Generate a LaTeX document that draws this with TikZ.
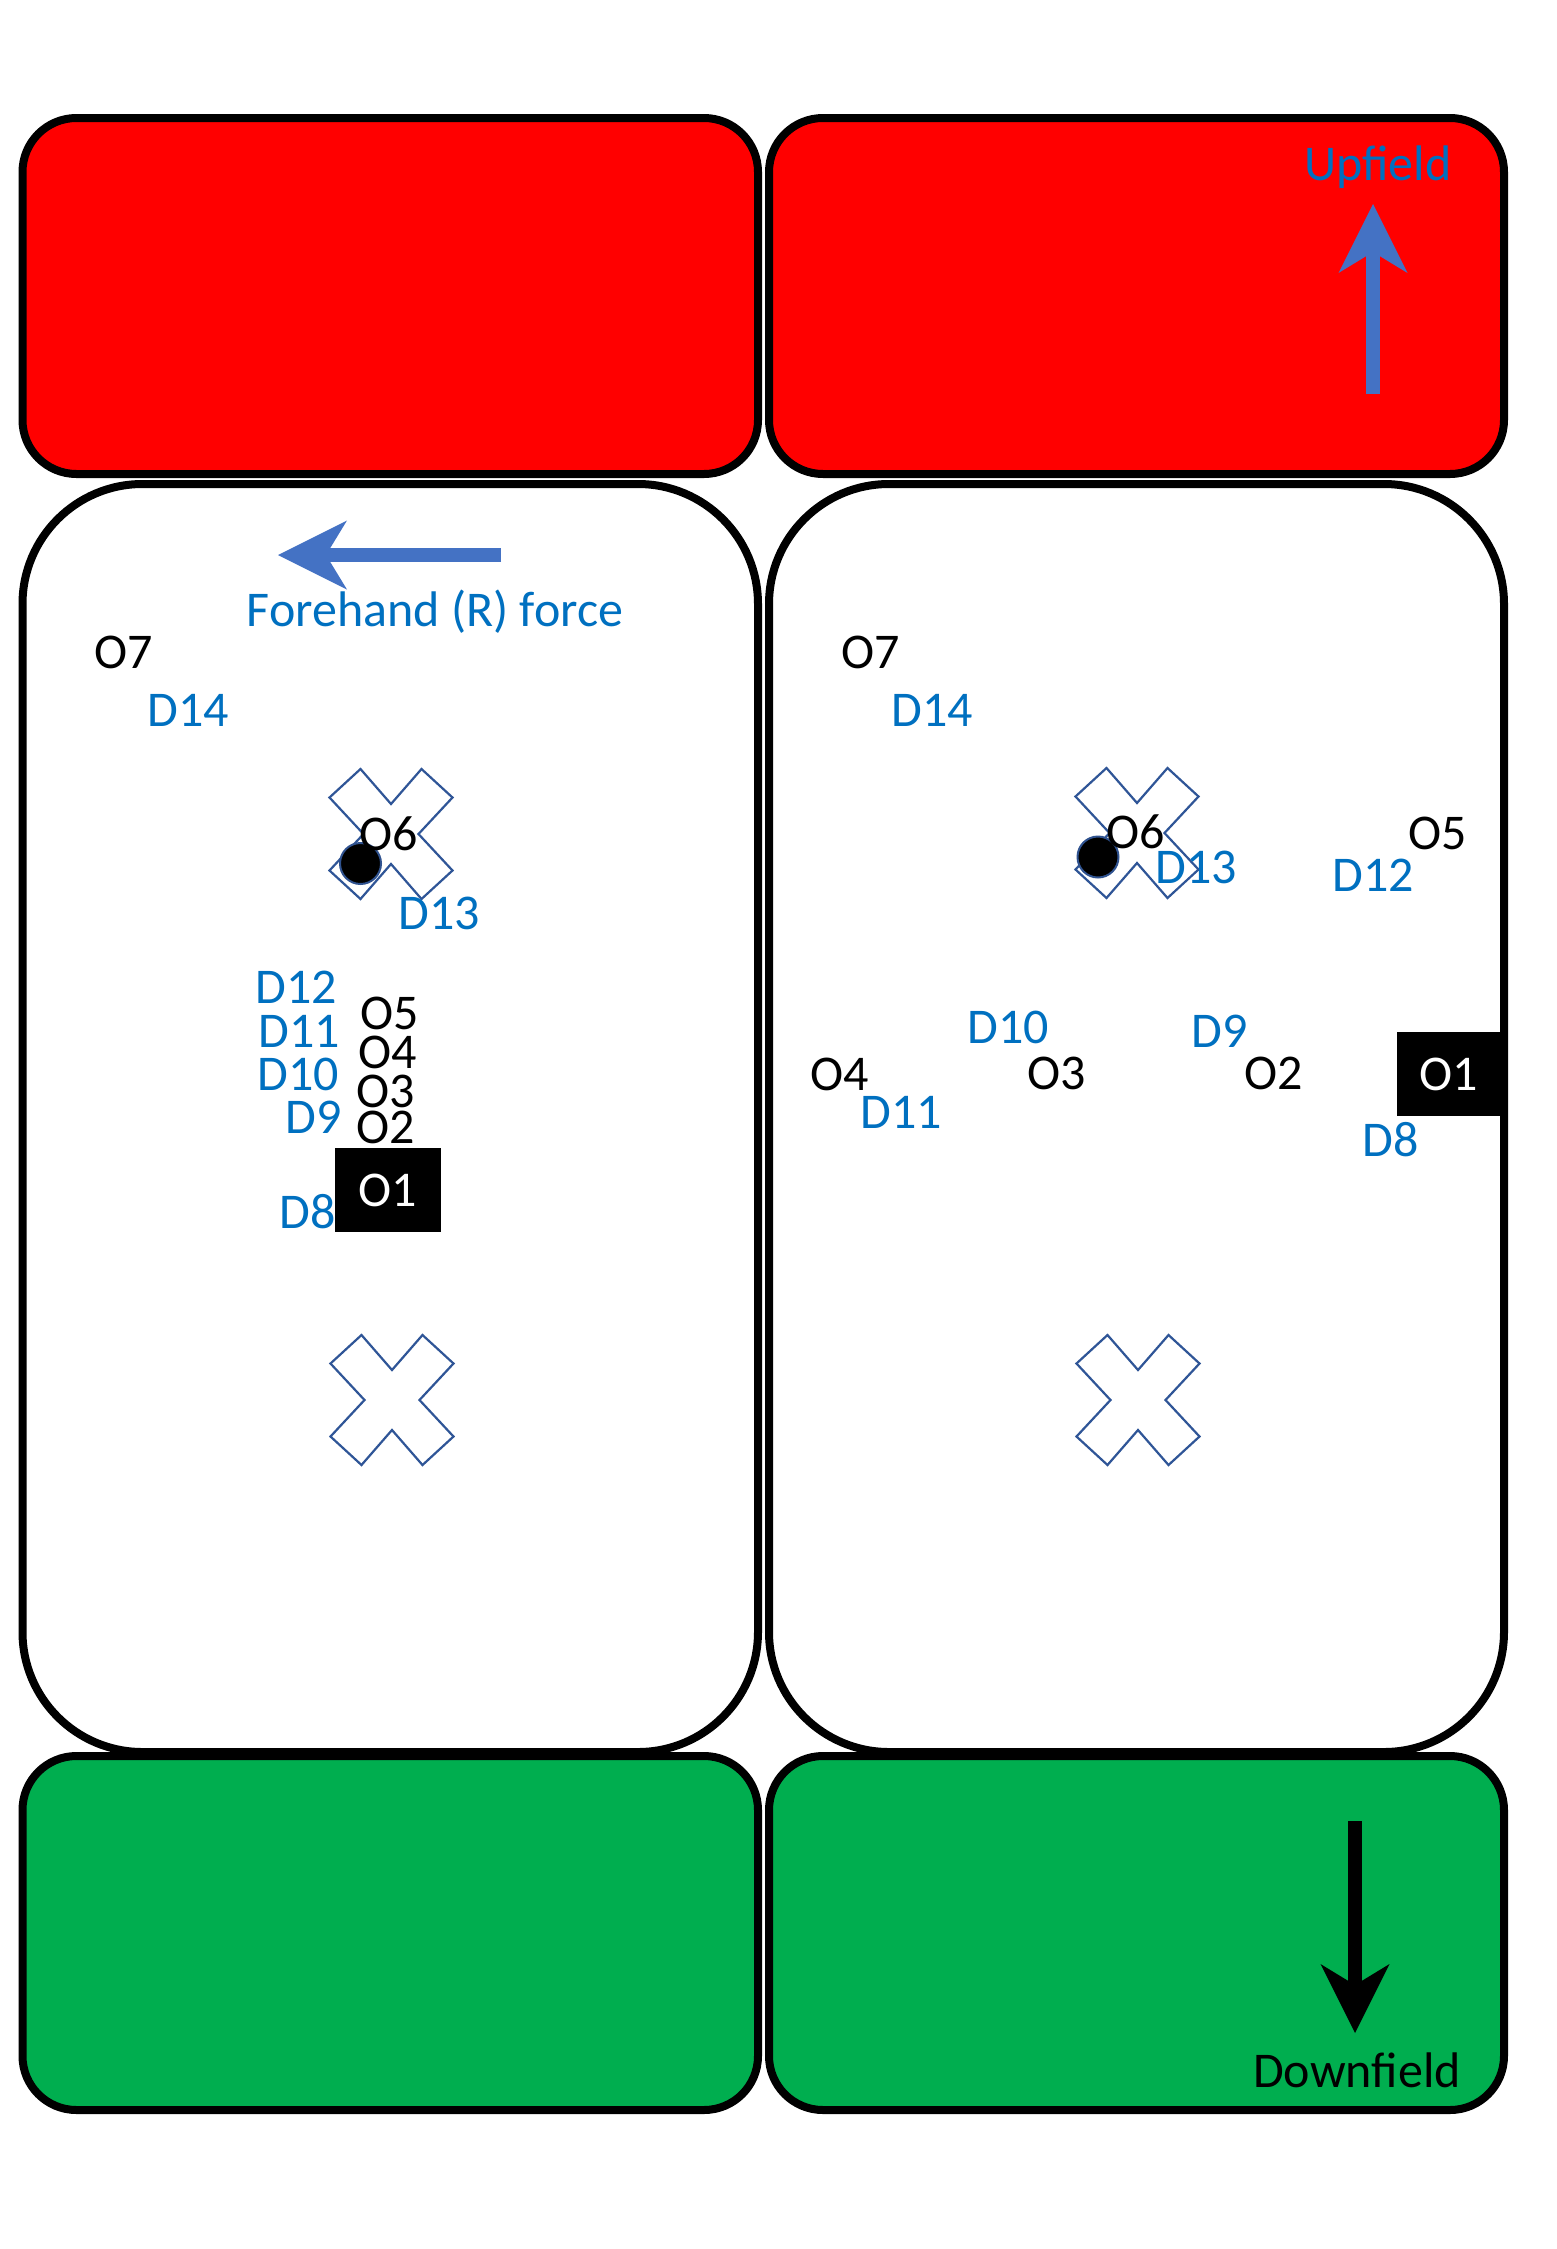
\documentclass[tikz,border=0pt]{standalone}
\usepackage{fontspec}
\setmainfont{Carlito}
\usetikzlibrary{arrows.meta}
\definecolor{fieldred}{HTML}{FF0000}
\definecolor{fieldgreen}{HTML}{00AE4F}
\definecolor{txtblue}{HTML}{0070C0}
\definecolor{arrblue}{HTML}{4472C4}
\definecolor{xblue}{HTML}{2F5597}
\definecolor{dotring}{HTML}{2F528F}
\begin{document}
\begin{tikzpicture}[x=1pt,y=-1pt,
  endzone/.style={draw=black,line width=8pt,rounded corners=54pt},
  midfield/.style={draw=black,fill=white,line width=8pt,rounded corners=120pt},
  olab/.style={anchor=base,inner sep=0pt,font=\fontsize{50}{60}\selectfont,text=black},
  dlab/.style={olab,text=txtblue},
  obox/.style={fill=black,text=white,inner sep=0pt,font=\fontsize{50}{60}\selectfont},
  disc/.style={circle,fill=black,draw=dotring,line width=2pt,inner sep=0pt,minimum size=41pt},
  bigarrow/.style={line width=14pt,-{Stealth[length=69pt,width=69pt,inset=21pt,line width=0pt]}},
  xmark/.pic={\draw[xblue,line width=2.2pt,line join=miter]
    (-30.5,-65) -- (0,-30) -- (30.5,-65) -- (61.5,-36.5) -- (27.5,0) -- (61.5,36.5)
    -- (30.5,65) -- (0,30) -- (-30.5,65) -- (-61.5,36.5) -- (-27.5,0) -- (-61.5,-36.5) -- cycle;}
]
\useasboundingbox (0,0) rectangle (1557,2249);
% field zones
\draw[endzone,fill=fieldred] (22.5,118) rectangle (758,474);
\draw[endzone,fill=fieldred] (769,118) rectangle (1504,474);
\draw[midfield] (22.5,484) rectangle (758,1752);
\draw[midfield] (769,484) rectangle (1504,1752);
\draw[endzone,fill=fieldgreen] (22.5,1756) rectangle (758,2110);
\draw[endzone,fill=fieldgreen] (769,1756) rectangle (1504,2110);

% X marks
\pic at (391,834) {xmark};
\pic at (392,1400) {xmark};
\pic at (1137,833) {xmark};
\pic at (1138,1400) {xmark};

% discs
\node[disc] (discL) at (360.5,863.5) {};
\node[disc] (discR) at (1098,857) {};

% arrows
\coordinate (faS) at (501,555);
\coordinate (faE) at (278,555);
\draw[bigarrow,arrblue] (faS) -- (faE);
\coordinate (upS) at (1373,394);
\coordinate (upE) at (1373,204);
\draw[bigarrow,arrblue] (upS) -- (upE);
\coordinate (dnS) at (1355,1821);
\coordinate (dnE) at (1355,2033);
\draw[bigarrow,black] (dnS) -- (dnE);

% texts
\node[dlab] (force) at (435,626) {Forehand (R) force};
\node[dlab] (upf) at (1378,180) {Upfield};
\node[olab] (dnf) at (1357,2087) {Downfield};

% left panel
\node[olab] (lO7) at (124,668) {O7};
\node[dlab] (lD14) at (188,726.5) {D14};
\node[olab] (lO6) at (389,850.5) {O6};
\node[dlab] (lD13) at (439.5,929.6) {D13};
\node[dlab] (lD12) at (296,1003.6) {D12};
\node[olab] (lO5) at (389.5,1029) {O5};
\node[dlab] (lD11) at (299.5,1047) {D11};
\node[olab] (lO4) at (388,1068) {O4};
\node[dlab] (lD10) at (298,1090) {D10};
\node[olab] (lO3) at (385.5,1107) {O3};
\node[dlab] (lD9) at (314,1133.7) {D9};
\node[olab] (lO2) at (385.5,1143) {O2};
\node[obox,minimum width=106pt,minimum height=84pt] (lO1) at (388,1190) {O1};
\node[dlab] (lD8) at (308,1228) {D8};

% right panel
\node[olab] (rO7) at (870.5,668) {O7};
\node[dlab] (rD14) at (932.5,726.5) {D14};
\node[olab] (rO6) at (1135.5,848) {O6};
\node[dlab] (rD13) at (1196,883.7) {D13};
\node[olab] (rO5) at (1437.8,849.5) {O5};
\node[dlab] (rD12) at (1373.5,891) {D12};
\node[dlab] (rD10) at (1008,1043) {D10};
\node[dlab] (rD9) at (1220,1047) {D9};
\node[olab] (rO4) at (839.5,1090) {O4};
\node[olab] (rO3) at (1057,1089) {O3};
\node[olab] (rO2) at (1273.5,1089) {O2};
\node[obox,minimum width=102.5pt,minimum height=84pt] (rO1) at (1448.25,1074) {O1};
\node[dlab] (rD11) at (901.5,1128) {D11};
\node[dlab] (rD8) at (1390.5,1156) {D8};
\end{tikzpicture}
\end{document}
